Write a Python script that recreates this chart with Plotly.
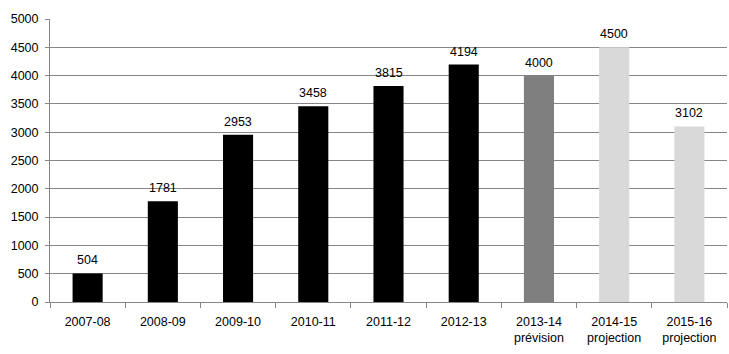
import plotly.graph_objects as go

categories = ["2007-08", "2008-09", "2009-10", "2010-11", "2011-12", "2012-13",
              "2013-14<br>prévision", "2014-15<br>projection", "2015-16<br>projection"]
values = [504, 1781, 2953, 3458, 3815, 4194, 4000, 4500, 3102]
colors = ["#000000"] * 6 + ["#7f7f7f", "#d9d9d9", "#d9d9d9"]
y_ticks = list(range(0, 5001, 500))

FONT = "Liberation Sans, Arial"

fig = go.Figure(go.Bar(
    x=categories, y=values, marker_color=colors, marker_line_width=0,
))

for c, v in zip(categories, values):
    fig.add_annotation(x=c, y=v, text=str(v), showarrow=False, yanchor="bottom",
                       yshift=4, font=dict(family=FONT, size=12.5, color="#000000"))

fig.update_layout(
    width=729, height=354,
    margin=dict(l=50, r=2, t=19, b=52),
    paper_bgcolor="white", plot_bgcolor="white",
    bargap=0.6, showlegend=False,
    font=dict(family=FONT, size=12.5, color="#000000"),
)
fig.update_yaxes(
    range=[0, 5000], tickvals=y_ticks, showgrid=True, gridcolor="#868686", gridwidth=1,
    showline=True, linecolor="#868686", ticks="outside", ticklen=4, tickcolor="#868686",
    zeroline=False, ticklabelstandoff=4,
)
fig.update_xaxes(
    type="category",
    showline=True, linecolor="#868686", ticks="outside", tickson="boundaries",
    ticklen=5, tickcolor="#868686", showgrid=False, ticklabelstandoff=8,
)

fig.write_html("out.html")
